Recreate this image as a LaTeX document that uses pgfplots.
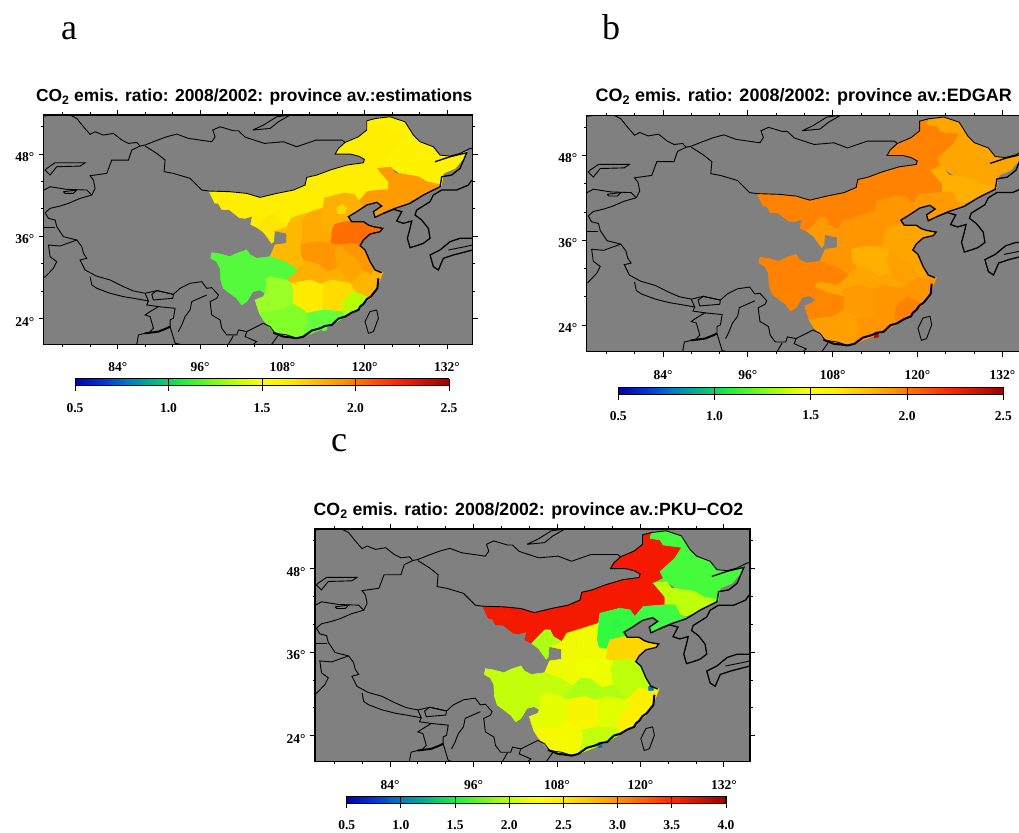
\documentclass[border=0pt]{standalone}
\usepackage{fontspec}
\setmainfont{Liberation Serif}
\newfontfamily\helv{Liberation Sans}
\usepackage{pgfplots}
\pgfplotsset{compat=1.18}
% province colours, one set per panel
\definecolor{aNM}{RGB}{255,238,0}\definecolor{aHLJ}{RGB}{255,242,0}\definecolor{aJL}{RGB}{255,155,0}\definecolor{aLN}{RGB}{255,155,0}
\definecolor{aHB}{RGB}{255,175,0}\definecolor{aBJ}{RGB}{255,215,0}\definecolor{aSD}{RGB}{255,110,0}\definecolor{aSX}{RGB}{255,170,0}
\definecolor{aSN}{RGB}{255,185,0}\definecolor{aGS}{RGB}{255,230,0}\definecolor{aHEN}{RGB}{255,150,0}\definecolor{aJS}{RGB}{255,150,0}
\definecolor{aAH}{RGB}{255,165,0}\definecolor{aHUB}{RGB}{255,175,0}\definecolor{aZJ}{RGB}{255,180,0}\definecolor{aHUN}{RGB}{255,235,0}
\definecolor{aJX}{RGB}{255,220,0}\definecolor{aFJ}{RGB}{180,255,0}\definecolor{aGD}{RGB}{100,255,60}\definecolor{aGX}{RGB}{130,255,40}
\definecolor{aGZ}{RGB}{155,255,40}\definecolor{aCQ}{RGB}{155,255,40}\definecolor{aSC}{RGB}{85,250,60}\definecolor{aSH}{RGB}{255,180,0}\definecolor{aHK}{RGB}{100,255,60}
\definecolor{bNM}{RGB}{255,130,0}\definecolor{bHLJ}{RGB}{255,165,0}\definecolor{bJL}{RGB}{255,175,0}\definecolor{bLN}{RGB}{255,155,0}
\definecolor{bHB}{RGB}{255,150,0}\definecolor{bBJ}{RGB}{255,150,0}\definecolor{bSD}{RGB}{255,165,0}\definecolor{bSX}{RGB}{255,150,0}
\definecolor{bSN}{RGB}{255,150,0}\definecolor{bGS}{RGB}{255,155,0}\definecolor{bHEN}{RGB}{255,175,0}\definecolor{bJS}{RGB}{255,165,0}
\definecolor{bAH}{RGB}{255,160,0}\definecolor{bHUB}{RGB}{255,165,0}\definecolor{bZJ}{RGB}{255,150,0}\definecolor{bHUN}{RGB}{255,155,0}
\definecolor{bJX}{RGB}{255,150,0}\definecolor{bFJ}{RGB}{255,130,0}\definecolor{bGD}{RGB}{255,150,0}\definecolor{bGX}{RGB}{255,160,0}
\definecolor{bGZ}{RGB}{255,135,0}\definecolor{bCQ}{RGB}{255,165,0}\definecolor{bSC}{RGB}{255,130,0}\definecolor{bSH}{RGB}{255,150,0}\definecolor{bHK}{RGB}{170,10,0}
\definecolor{cNM}{RGB}{245,25,0}\definecolor{cHLJ}{RGB}{70,250,60}\definecolor{cJL}{RGB}{190,255,10}\definecolor{cLN}{RGB}{60,250,70}
\definecolor{cHB}{RGB}{50,250,65}\definecolor{cBJ}{RGB}{45,245,70}\definecolor{cSD}{RGB}{255,215,0}\definecolor{cSX}{RGB}{240,250,0}
\definecolor{cSN}{RGB}{240,250,0}\definecolor{cGS}{RGB}{175,255,20}\definecolor{cHEN}{RGB}{240,255,0}\definecolor{cJS}{RGB}{190,255,10}
\definecolor{cAH}{RGB}{190,255,10}\definecolor{cHUB}{RGB}{175,255,20}\definecolor{cZJ}{RGB}{255,240,0}\definecolor{cHUN}{RGB}{248,245,0}
\definecolor{cJX}{RGB}{225,255,0}\definecolor{cFJ}{RGB}{255,240,0}\definecolor{cGD}{RGB}{195,255,10}\definecolor{cGX}{RGB}{245,250,0}
\definecolor{cGZ}{RGB}{230,255,0}\definecolor{cCQ}{RGB}{230,255,0}\definecolor{cSC}{RGB}{195,255,10}\definecolor{cSH}{RGB}{0,120,190}\definecolor{cHK}{RGB}{0,110,190}
\definecolor{mapgray}{RGB}{128,128,128}
\pgfplotsset{
 colormap={ratio}{rgb255(0cm)=(0,0,170) rgb255(7cm)=(0,50,210) rgb255(14cm)=(0,120,200) rgb255(21cm)=(0,180,140) rgb255(29cm)=(30,240,60) rgb255(43cm)=(190,255,0) rgb255(50cm)=(255,255,0) rgb255(57cm)=(255,235,0) rgb255(71cm)=(255,150,0) rgb255(86cm)=(255,40,0) rgb255(100cm)=(160,0,0)},
 mapaxis/.style={
  scale only axis, axis on top, clip=true,
  xmin=73.2,xmax=135.75,ymin=20.25,ymax=53.7,
  axis background/.style={fill=mapgray},
  x filter/.expression={84+(x-263)/20.58},
  y filter/.expression={48-(y-222)/20.58},
  xtick={84,96,108,120,132},xticklabels={84°,96°,108°,120°,132°},
  ytick={24,36,48},yticklabels={24°,36°,48°},
  minor xtick={76,80,88,92,100,104,112,116,124,128},
  minor ytick={28,32,40,44,52},
  tick align=outside, tick pos=both, major tick length=5pt, minor tick length=2.5pt,
  tick style={black,line width=.9pt}, axis line style={line width=1.3pt},
  xticklabel pos=bottom, yticklabel pos=left,
  tick label style={font=\bfseries\fontsize{13.5}{14}\selectfont},
  xticklabel style={yshift=-10pt},
  yticklabel style={xshift=-1pt,yshift=-3pt},
  title style={font=\helv\bfseries\fontsize{17.4}{18}\selectfont,xshift=-4pt,yshift=0pt},
  colormap name=ratio, colorbar horizontal, colorbar sampled,
 },
 barstyle/.style={
  at={(parent axis.south west)},anchor=north west,
  samples=200, tick pos=bottom, axis line style={line width=1pt},
  tick style={black,line width=.8pt},
  xtick align=inside, major tick length=7pt,
  xticklabel style={font=\bfseries\fontsize{13.5}{14}\selectfont,yshift=-14pt},
  extra x tick style={tick align=outside,major tick length=5pt,xticklabel=\empty},
 },
}
\newcommand\pg[2]{\addplot[fill=\pn#1,draw=\pn#1,line width=.6pt] coordinates {#2};}
\newcommand\bl[1]{\addplot[black,line width=.9pt] coordinates {#1};}
\newcommand\blm[1]{\addplot[black,line width=1.3pt] coordinates {#1};}
\newcommand\blt[1]{\addplot[black,line width=2pt] coordinates {#1};}
\newcommand\chinamap{%
\pg{NM}{(537,333)(600,335)(650,340)(690,352)(740,340)(790,330)(825,315)(830,292)(860,285)(900,270)(950,255)(1000,248)(1003,238)(985,228)(960,222)(915,222)(925,205)(945,187)(985,170)(1010,150)(1010,122)(1037,115)(1032,132)(1062,137)(1071,152)(1126,159)(1106,191)(1062,231)(1072,251)(1042,265)(1060,285)(1076,305)(1076,329)(1040,330)(1012,334)(1000,350)(987,364)(973,344)(943,339)(915,345)(884,354)(879,384)(835,398)(786,413)(771,438)(746,423)(736,403)(721,403)(700,423)(682,443)(662,433)(667,408)(645,415)(628,413)(598,389)(575,388)(565,370)(554,369)(537,333)}
\pg{HLJ}{(1037,115)(1080,110)(1125,125)(1150,165)(1170,185)(1210,200)(1230,225)(1260,228)(1310,215)(1300,235)(1275,265)(1240,280)(1234,315)(1190,305)(1141,286)(1111,281)(1082,261)(1042,265)(1072,251)(1062,231)(1106,191)(1126,159)(1071,152)(1062,137)(1032,132)(1037,115)}
\pg{JL}{(1042,265)(1082,261)(1095,280)(1111,281)(1141,286)(1165,290)(1190,305)(1234,315)(1230,318)(1180,345)(1140,362)(1121,359)(1106,329)(1076,329)(1076,305)(1042,265)}
\pg{LN}{(1076,329)(1106,329)(1121,359)(1140,365)(1095,385)(1060,400)(1035,412)(1030,395)(1055,378)(1040,367)(1010,375)(1000,382)(987,364)(1012,334)(1076,329)}
\pg{HB}{(884,354)(943,339)(973,344)(987,364)(1000,382)(980,395)(955,410)(965,425)(953,423)(914,433)(904,460)(880,456)(874,430)(879,384)(884,354)}
\pg{BJ}{(920,385)(935,372)(950,385)(945,400)(925,402)(920,385)}
\pg{SD}{(904,460)(914,433)(953,423)(965,425)(1000,425)(1015,435)(1030,440)(1058,445)(1050,455)(1020,462)(1000,480)(990,497)(965,490)(925,495)(900,490)(904,460)}
\pg{SX}{(835,398)(879,384)(874,430)(880,456)(904,460)(900,490)(860,485)(812,495)(815,450)(815,420)(835,398)}
\pg{SN}{(771,438)(786,413)(835,398)(815,420)(815,450)(812,495)(815,530)(830,545)(802,570)(770,548)(720,530)(735,495)(770,490)(770,460)(733,452)(771,438)}
\pg{GS}{(682,443)(721,403)(736,403)(746,423)(771,438)(733,452)(731,483)(725,490)(702,458)(682,443)}
\pg{HEN}{(812,495)(860,485)(900,490)(925,495)(915,520)(925,565)(890,575)(860,550)(830,545)(815,530)(812,495)}
\pg{JS}{(925,495)(965,490)(990,497)(1005,510)(1020,545)(1035,570)(1058,578)(1035,585)(1000,575)(985,540)(960,525)(925,495)}
\pg{AH}{(915,520)(925,495)(960,525)(985,540)(1000,575)(975,600)(960,610)(925,565)(915,520)}
\pg{HUB}{(802,570)(830,545)(860,550)(890,575)(925,565)(960,610)(905,600)(870,612)(840,600)(785,610)(768,600)(802,570)}
\pg{ZJ}{(960,610)(975,600)(1000,575)(1035,585)(1058,578)(1050,600)(1040,625)(1020,655)(975,635)(960,610)}
\pg{SH}{(1028,570)(1042,572)(1042,582)(1028,582)(1028,570)}
\pg{SC}{(542,535)(545,518)(570,522)(600,530)(620,520)(650,510)(660,525)(680,535)(720,530)(770,548)(802,570)(768,600)(720,590)(705,600)(705,640)(690,630)(668,635)(650,665)(635,675)(620,655)(600,640)(580,625)(572,600)(570,565)(560,545)(542,535)}
\pg{CQ}{(705,600)(720,590)(768,600)(785,610)(790,632)(742,622)(708,607)(705,600)}
\pg{GZ}{(708,607)(742,622)(790,632)(790,671)(761,690)(688,700)(675,660)(700,650)(705,640)(708,607)}
\pg{GX}{(688,700)(761,690)(790,671)(825,690)(830,700)(835,725)(820,770)(800,775)(760,770)(730,755)(700,720)(688,700)}
\pg{HUN}{(785,610)(840,600)(870,612)(880,610)(880,690)(830,700)(825,690)(790,671)(790,632)(785,610)}
\pg{JX}{(870,612)(905,600)(960,610)(975,635)(945,655)(935,695)(880,690)(880,610)(870,612)}
\pg{FJ}{(975,635)(1020,655)(1000,670)(985,690)(945,710)(935,695)(945,655)(975,635)}
\pg{GD}{(830,700)(880,690)(935,695)(945,710)(905,735)(870,750)(820,770)(835,725)(830,700)}
\pg{HK}{(878,742)(890,740)(890,750)(878,752)(878,742)}
% borders and coasts
\bl{(120,105)(140,115)(160,140)(180,163)(195,155)(220,165)(250,160)(275,180)(295,190)(320,187)(330,198)(345,195)(375,183)(410,170)(440,162)(475,175)(545,185)(555,170)(548,150)(570,140)(610,152)(625,152)(645,171)(703,190)(760,185)(800,200)(858,180)(936,180)(945,187)}
\bl{(40,108)(65,105)}
\bl{(330,198)(305,210)(295,240)(245,240)(230,280)(180,287)(190,300)(195,325)(185,345)(150,355)(115,370)(90,378)(60,385)(45,398)(55,415)(75,420)(80,440)(100,470)(140,480)(155,500)(160,520)(170,535)(150,540)(165,570)(198,588)(240,600)(280,620)(310,633)(345,640)(380,632)(430,643)(450,625)(480,610)(515,605)(530,625)(545,623)(565,645)(560,655)(540,665)(545,705)(570,720)(575,745)(590,765)(620,765)(625,750)(650,755)(670,745)(700,730)(720,740)(735,760)(770,765)(800,775)}
\bl{(345,198)(380,220)(405,240)(402,275)(430,280)(480,295)(515,330)(537,333)(600,335)(650,340)(690,352)(740,340)(790,330)(825,315)(830,292)(860,285)(900,270)(950,255)(1000,248)(1003,238)(985,228)(960,222)(915,222)(925,205)(945,187)(985,170)(1010,150)(1010,122)(1037,115)(1080,110)(1125,125)(1150,165)(1170,185)(1210,200)(1230,225)(1260,228)(1290,220)(1320,205)(1328,205)}
\blm{(1215,245)(1260,230)(1310,218)(1290,265)(1265,285)(1235,290)(1230,320)(1180,345)(1140,370)(1095,385)(1060,400)(1035,412)(1030,395)(1055,378)(1040,367)(1010,375)(980,395)(955,410)(965,425)(1000,425)(1015,435)(1030,440)(1058,445)(1050,455)(1020,462)(1000,480)(990,497)(1005,510)(1020,545)(1035,570)(1055,578)}
\blt{(1045,595)(1042,625)(1030,640)(1022,650)(1010,658)(1000,672)(990,680)(985,690)(965,698)(945,710)(925,716)(905,735)(885,738)(870,745)(845,752)(820,770)(800,775)(780,772)(760,770)(730,758)}
\blm{(1325,300)(1315,315)(1280,330)(1235,330)(1210,345)(1200,365)(1160,390)(1155,405)(1175,420)(1195,445)(1200,475)(1180,490)(1160,497)(1140,503)(1132,475)(1140,445)(1145,423)(1120,430)(1100,423)(1115,395)(1090,388)(1060,400)}
\blm{(1328,475)(1290,475)(1260,485)(1230,510)(1200,525)(1210,560)(1225,570)(1240,535)(1270,525)(1328,510)}
\bl{(1255,510)(1305,500)(1328,495)}
\bl{(1040,690)(1020,695)(1005,725)(1015,760)(1030,755)(1045,715)(1040,690)}
\bl{(42,330)(60,320)(110,328)(170,330)(185,345)}
\bl{(100,335)(140,330)(130,340)(105,340)(100,335)}
\bl{(50,265)(75,248)(165,248)(150,258)(80,260)(60,285)(45,270)(50,265)}
\bl{(42,442)(75,442)}
\bl{(140,480)(90,498)(55,495)(60,530)(80,545)(70,565)(43,593)}
\bl{(180,590)(185,615)(200,625)(240,640)(280,650)(310,655)(355,663)(345,640)}
\bl{(365,643)(380,632)(430,643)(428,655)(370,660)(365,643)}
\bl{(355,663)(350,675)(385,680)(360,695)(345,705)(360,710)(370,745)(355,760)}
\bl{(385,680)(435,685)(430,715)(420,720)(420,740)}
\bl{(320,793)(325,765)(345,760)}
\blt{(345,760)(385,755)(410,745)(420,740)}
\bl{(420,740)(435,790)(450,793)}
\bl{(530,645)(485,665)(480,690)(465,710)(455,735)(445,755)}
\bl{(595,793)(610,767)}
\bl{(650,755)(645,770)(680,785)(670,793)}
\bl{(725,793)(745,765)}
\bl{(668,150)(700,135)(740,110)(780,105)(745,125)(720,145)(668,150)}
}
\begin{document}
\begin{tikzpicture}
\useasboundingbox (0pt,0pt) rectangle (1019pt,832pt);
\node[font=\fontsize{36}{36}\selectfont] at (69pt,801pt) {a};
\node[font=\fontsize{36}{36}\selectfont] at (611pt,805pt) {b};
\node[font=\fontsize{36}{36}\selectfont] at (339pt,389pt) {c};
\def\pn{a}
\begin{axis}[mapaxis,at={(43.7pt,487.7pt)},anchor=south west,width=429pt,height=229.3pt,
 title={CO\textsubscript{2} emis. ratio: 2008/2002: province av.:estimations},
 point meta min=0.5,point meta max=2.5,
 colorbar style={barstyle,xshift=31.3pt,yshift=-26pt,width=374pt,height=7pt,
  xtick={0.5,1,1.5,2,2.5},xticklabels={0.5,1.0,1.5,2.0,2.5},extra x ticks={0.5,1,1.5,2,2.5}}]
\chinamap
\end{axis}
\def\pn{b}
\begin{axis}[mapaxis,at={(586.7pt,480.3pt)},anchor=south west,width=442.2pt,height=236.5pt,
 title style={font=\helv\bfseries\fontsize{18}{18}\selectfont},
 title={CO\textsubscript{2} emis. ratio: 2008/2002: province av.:EDGAR},
 point meta min=0.5,point meta max=2.5,
 colorbar style={barstyle,xshift=31.6pt,yshift=-27pt,width=385pt,height=7.3pt,
  xticklabel style={yshift=1pt},
  xtick={0.5,1,1.5,2,2.5},xticklabels={0.5,1.0,1.5,2.0,2.5},extra x ticks={0.5,1,1.5,2,2.5}}]
\chinamap
\end{axis}
\def\pn{c}
\begin{axis}[mapaxis,at={(315pt,70.3pt)},anchor=south west,width=435pt,height=232.7pt,
 title style={font=\helv\bfseries\fontsize{17.7}{18}\selectfont},
 title={CO\textsubscript{2} emis. ratio: 2008/2002: province av.:PKU\textminus CO2},
 point meta min=0.5,point meta max=4,
 colorbar style={barstyle,xshift=31.7pt,yshift=-26.3pt,width=379.3pt,height=6.7pt,
  xtick={0.5,1,1.5,2,2.5,3,3.5,4},xticklabels={0.5,1.0,1.5,2.0,2.5,3.0,3.5,4.0},extra x ticks={0.5,1,1.5,2,2.5,3,3.5,4}}]
\chinamap
\end{axis}
\end{tikzpicture}
\end{document}
